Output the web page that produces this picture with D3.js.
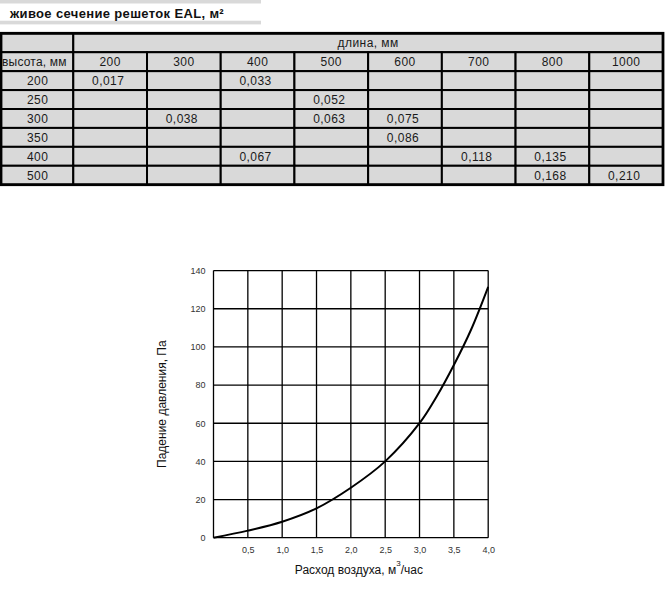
<!DOCTYPE html>
<html><head><meta charset="utf-8">
<script src="https://cdn.jsdelivr.net/npm/d3@7"></script>
<style>body{margin:0;background:#fff}svg{display:block}text{font-family:"Liberation Sans",Arial,sans-serif}</style>
</head><body>
<script>
// ---- data ----
const titleText = "живое сечение решеток EAL, м²";
const lengthLabel = "длина, мм";
const heightLabel = "высота, мм";
const lengths = [200, 300, 400, 500, 600, 700, 800, 1000];
const heights = [200, 250, 300, 350, 400, 500];
const areaRows = [
  [0.017, null, 0.033, null, null, null, null, null],
  [null, null, null, 0.052, null, null, null, null],
  [null, 0.038, null, 0.063, 0.075, null, null, null],
  [null, null, null, null, 0.086, null, null, null],
  [null, null, 0.067, null, null, 0.118, 0.135, null],
  [null, null, null, null, null, null, 0.168, 0.210]
];
const flow = [0, 0.5, 1.0, 1.5, 2.0, 2.5, 3.0, 3.25, 3.5, 3.75, 4.0];
const pressure = [0, 3.7, 8.4, 15.4, 26.2, 40, 60, 74, 90.5, 109, 131.5];
const xTicks = [0.5, 1.0, 1.5, 2.0, 2.5, 3.0, 3.5, 4.0];
const yTicks = [0, 20, 40, 60, 80, 100, 120, 140];
const xTitle = "Расход воздуха, м";
const xTitleSup = "3";
const xTitleEnd = "/час";
const yTitle = "Падение давления, Па";

const W = 666, H = 590;
const svg = d3.select("body").append("svg").attr("width", W).attr("height", H);
const comma = v => d3.format(".3f")(v).replace(".", ",");
const tick1 = v => d3.format(".1f")(v).replace(".", ",");

// ---- title ----
const CELL = "#d9d9d9";
svg.append("rect").attr("x", 0).attr("y", 0).attr("width", 261).attr("height", 3.5).attr("fill", CELL);
svg.append("rect").attr("x", 0).attr("y", 20.7).attr("width", 261).attr("height", 3.7).attr("fill", CELL);
svg.append("text").attr("x", 10).attr("y", 17.5).attr("font-size", 13).attr("font-weight", "bold")
  .attr("letter-spacing", 0.35).attr("fill", "#111").text(titleText);

// ---- table ----
const tTop = 33.3, tBottom = 184.7, tLeft = 0, firstCol = 73.3, tRight = 663;
const rowKeys = ["h1", "h2"].concat(heights.map(String));
const ry = d3.scaleBand().domain(rowKeys).range([tTop, tBottom]);
const cx = d3.scaleBand().domain(lengths.map(String)).range([firstCol, tRight]);
const tg = svg.append("g");
const cellRect = (x, y, w, h) => tg.append("rect").attr("x", x).attr("y", y).attr("width", w).attr("height", h)
  .attr("fill", CELL).attr("stroke", "#000").attr("stroke-width", 2);
const cellText = (x, y, t, anchor = "middle", ls = 0.45) => tg.append("text").attr("x", x).attr("y", y)
  .attr("dy", "0.36em").attr("text-anchor", anchor).attr("font-size", 12).attr("letter-spacing", ls)
  .attr("fill", "#1a1a1a").text(t);

// header row 1
cellRect(tLeft, ry("h1"), firstCol - tLeft, ry.bandwidth());
cellRect(firstCol, ry("h1"), tRight - firstCol, ry.bandwidth());
cellText((firstCol + tRight) / 2, ry("h1") + ry.bandwidth() / 2, lengthLabel);
// header row 2
cellRect(tLeft, ry("h2"), firstCol - tLeft, ry.bandwidth());
cellText(2, ry("h2") + ry.bandwidth() / 2, heightLabel, "start", 0.2);
lengths.forEach(l => {
  cellRect(cx(String(l)), ry("h2"), cx.bandwidth(), ry.bandwidth());
  cellText(cx(String(l)) + cx.bandwidth() / 2, ry("h2") + ry.bandwidth() / 2, String(l));
});
// data rows
heights.forEach((h, i) => {
  const y = ry(String(h));
  cellRect(tLeft, y, firstCol - tLeft, ry.bandwidth());
  cellText(firstCol / 2 + 1, y + ry.bandwidth() / 2, String(h));
  lengths.forEach((l, j) => {
    cellRect(cx(String(l)), y, cx.bandwidth(), ry.bandwidth());
    const v = areaRows[i][j];
    if (v != null) cellText(cx(String(l)) + cx.bandwidth() / 2 - 2, y + ry.bandwidth() / 2, comma(v));
  });
});
tg.append("rect").attr("x", tLeft + 1).attr("y", tTop).attr("width", tRight - tLeft - 1).attr("height", tBottom - tTop)
  .attr("fill", "none").attr("stroke", "#000").attr("stroke-width", 2.8);

// ---- chart ----
const pL = 213.5, pR = 488.2, pT = 270.6, pB = 537.7;
const x = d3.scaleLinear().domain([0, 4]).range([pL, pR]);
const y = d3.scaleLinear().domain([0, 140]).range([pB, pT]);
const cg = svg.append("g");
// grid
cg.selectAll("line.v").data(d3.range(0, 4.01, 0.5)).join("line")
  .attr("x1", d => x(d)).attr("x2", d => x(d)).attr("y1", pT).attr("y2", pB)
  .attr("stroke", "#000").attr("stroke-width", 1.3);
cg.selectAll("line.h").data(yTicks).join("line")
  .attr("x1", pL).attr("x2", pR).attr("y1", d => y(d)).attr("y2", d => y(d))
  .attr("stroke", "#000").attr("stroke-width", 1.3);
// axes (labels only)
const xAxis = cg.append("g").attr("transform", `translate(0,${pB})`)
  .call(d3.axisBottom(x).tickValues(xTicks).tickFormat(tick1).tickSize(0).tickPadding(9));
const yAxis = cg.append("g").attr("transform", `translate(${pL},0)`)
  .call(d3.axisLeft(y).tickValues(yTicks).tickFormat(d3.format("d")).tickSize(0).tickPadding(8));
[xAxis, yAxis].forEach(a => {
  a.select(".domain").remove();
  a.selectAll("text").attr("font-size", 9).attr("fill", "#333").attr("font-family", "'Liberation Sans',Arial,sans-serif");
});
// curve
const pts = flow.map((f, i) => [f, pressure[i]]);
cg.append("path").datum(pts)
  .attr("d", d3.line().x(d => x(d[0])).y(d => y(d[1])).curve(d3.curveCatmullRom))
  .attr("fill", "none").attr("stroke", "#000").attr("stroke-width", 2);
// titles
const xt = svg.append("text").attr("x", (pL + pR) / 2 + 8).attr("y", 574).attr("text-anchor", "middle")
  .attr("font-size", 12).attr("fill", "#111");
xt.append("tspan").text(xTitle);
xt.append("tspan").attr("dy", -8).attr("font-size", 8).text(xTitleSup);
xt.append("tspan").attr("dy", 8).text(xTitleEnd);
svg.append("text").attr("transform", `translate(166,${(pT + pB) / 2}) rotate(-90)`)
  .attr("text-anchor", "middle").attr("font-size", 12).attr("fill", "#111").text(yTitle);
</script>
</body></html>
